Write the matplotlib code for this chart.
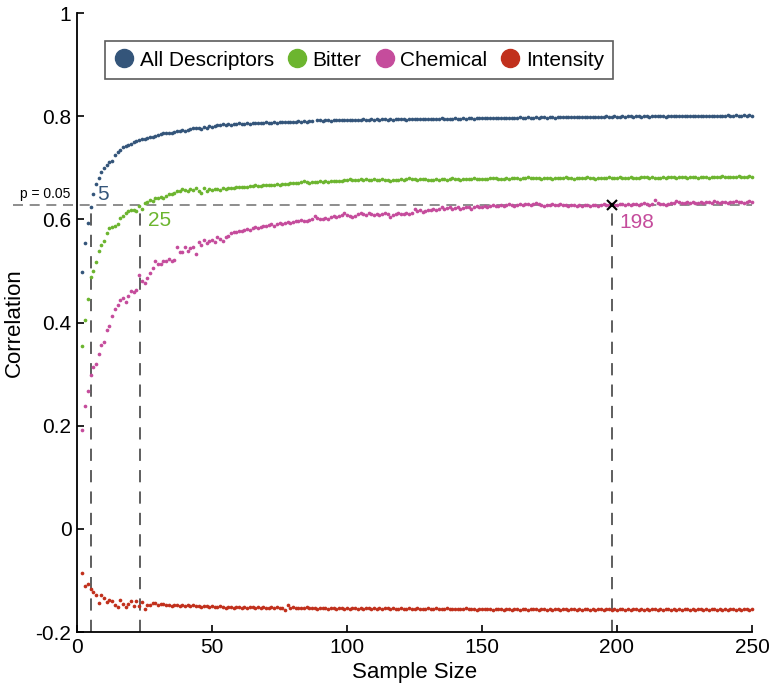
import numpy as np
import matplotlib
matplotlib.use('Agg')
import matplotlib.pyplot as plt
from matplotlib.lines import Line2D

plt.rcParams['font.family'] = ['Liberation Sans', 'DejaVu Sans']

# sample sizes 2..250
sample_size = np.arange(2, 251)

# correlation values, in thousandths
all_desc = [
    497, 555, 592, 624, 650, 668, 680, 692, 700, 706,
    712, 714, 725, 730, 735, 740, 742, 745, 747, 749,
    751, 753, 755, 756, 757, 759, 760, 762, 764, 766,
    767, 768, 768, 767, 770, 772, 771, 773, 772, 774,
    776, 778, 777, 778, 776, 779, 778, 780, 779, 781,
    783, 782, 784, 783, 784, 783, 785, 784, 786, 784,
    785, 786, 785, 787, 786, 786, 787, 786, 788, 787,
    787, 788, 787, 788, 789, 788, 788, 789, 788, 789,
    790, 789, 790, 789, 790, 791, np.nan, 792, 792, 791,
    792, 792, 791, 792, 792, 793, 792, 792, 793, 792,
    793, 792, 793, 793, 794, 793, 793, 794, 793, 794,
    793, 794, 794, 793, 794, 793, 794, 794, 795, 794,
    793, 794, 795, 794, 795, 794, 795, 795, 794, 795,
    795, 794, 795, 796, 795, 795, 794, 795, 796, 795,
    795, 796, 795, 796, 796, 795, 796, 796, 797, 796,
    796, 797, 796, 796, 797, 797, 796, 797, 797, 796,
    797, 797, 798, 797, 797, 798, 797, 797, 798, 797,
    798, 798, 797, 798, 798, 797, 798, 798, 799, 798,
    798, 799, 798, 798, 799, 798, 799, 799, 798, 799,
    799, 798, 799, 799, 800, 799, 799, 800, 799, 799,
    800, 799, 800, 800, 799, 800, 800, 799, 800, 800,
    799, 800, 800, 801, 800, 800, 799, 800, 801, 800,
    800, 801, 800, 800, 801, 800, 801, 801, 800, 801,
    800, 801, 801, 800, 801, 801, 800, 801, 801, 802,
    801, 801, 802, 801, 801, 802, 801, 802, 801,
]

bitter = [
    354, 404, 446, 489, 499, 517, 538, 550, 558, 573,
    583, 585, 588, 591, 602, 607, 613, 616, 618, 618,
    617, 626, 620, 632, 634, 638, 636, 641, 642, 643,
    641, 645, 650, 649, 652, 654, 655, 658, 656, 655,
    658, 657, 660, 655, 652, 660, 655, 658, 657, 659,
    658, 657, 660, 659, 660, 661, 660, 662, 663, 662,
    663, 662, 664, 665, 666, 665, 664, 666, 667, 666,
    667, 666, 668, 667, 668, 669, 668, 670, 671, 670,
    671, 672, 674, 672, 671, 673, 672, 673, 674, 673,
    674, 673, 674, 675, 674, 674, 675, 676, 677, 678,
    677, 676, 676, 678, 677, 678, 677, 676, 678, 677,
    677, 678, 677, 676, 674, 676, 677, 676, 678, 677,
    678, 680, 679, 678, 677, 678, 679, 678, 677, 676,
    677, 678, 677, 678, 679, 677, 678, 680, 679, 678,
    677, 678, 679, 678, 679, 680, 679, 678, 679, 678,
    679, 680, 681, 680, 679, 678, 679, 680, 679, 680,
    681, 680, 679, 680, 681, 682, 681, 680, 681, 680,
    679, 680, 681, 680, 679, 680, 681, 680, 681, 682,
    681, 680, 679, 680, 681, 680, 681, 682, 681, 680,
    679, 680, 681, 680, 681, 682, 681, 680, 681, 682,
    681, 680, 681, 682, 681, 680, 681, 682, 683, 682,
    681, 682, 681, 680, 681, 682, 681, 682, 683, 682,
    681, 682, 683, 682, 681, 682, 683, 682, 681, 682,
    683, 682, 681, 682, 683, 682, 683, 684, 683, 682,
    683, 682, 683, 684, 683, 682, 683, 684, 683,
]

chemical = [
    191, 239, 268, 299, 314, 320, 339, 356, 362, 385,
    394, 412, 426, 434, 444, 447, 440, 452, 462, 459,
    463, 492, 480, 477, 486, 495, 506, 519, 513, 513,
    519, 519, 524, 520, 522, 546, 536, 536, 546, 538,
    544, 546, 533, 557, 551, 560, 555, 558, 560, 556,
    566, 562, 558, 566, 568, 573, 575, 576, 578, 577,
    579, 581, 580, 583, 586, 584, 585, 588, 587, 589,
    590, 588, 591, 592, 590, 593, 594, 592, 595, 597,
    596, 598, 597, 596, 599, 600, 607, 602, 601, 600,
    603, 600, 605, 607, 604, 606, 609, 613, 608, 607,
    605, 607, 610, 613, 611, 609, 612, 610, 608, 611,
    609, 611, 613, 610, 605, 608, 610, 612, 611, 610,
    612, 611, 613, 620, 616, 618, 615, 617, 619, 618,
    620, 619, 621, 623, 620, 622, 624, 621, 622, 623,
    621, 622, 624, 623, 621, 624, 625, 623, 624, 626,
    624, 626, 627, 625, 626, 628, 626, 627, 629, 628,
    626, 628, 629, 627, 629, 630, 628, 629, 631, 629,
    627, 626, 628, 627, 629, 628, 627, 629, 628, 627,
    626, 628, 627, 625, 627, 626, 628, 627, 626, 628,
    627, 626, 628, 629, 627, 628, 629, 628, 627, 629,
    630, 628, 629, 627, 629, 630, 628, 629, 631, 630,
    628, 629, 637, 632, 630, 629, 628, 630, 631, 632,
    636, 633, 631, 632, 634, 632, 633, 631, 632, 633,
    631, 633, 634, 632, 635, 633, 632, 634, 633, 632,
    634, 633, 635, 633, 634, 632, 634, 635, 633,
]

intensity = [
    -86, -110, -107, -116, -123, -129, -144, -128, -135, -142,
    -137, -139, -147, -151, -137, -145, -151, -145, -139, -150,
    -139, -149, -142, -155, -147, -147, -144, -143, -147, -146,
    -145, -147, -148, -149, -148, -147, -149, -148, -150, -148,
    -149, -148, -150, -149, -151, -149, -150, -151, -150, -152,
    -151, -150, -152, -153, -152, -151, -153, -152, -151, -153,
    -152, -153, -152, -151, -153, -152, -153, -152, -154, -153,
    -152, -153, -152, -154, -153, -158, -148, -154, -152, -153,
    -153, -154, -153, -152, -154, -153, -154, -155, -153, -154,
    -153, -155, -154, -153, -155, -154, -153, -155, -154, -155,
    -154, -153, -155, -154, -155, -153, -154, -155, -154, -156,
    -154, -155, -154, -153, -155, -154, -156, -155, -154, -155,
    -156, -154, -155, -156, -154, -155, -156, -155, -154, -156,
    -155, -154, -156, -155, -156, -154, -155, -156, -155, -156,
    -155, -156, -154, -155, -156, -155, -157, -155, -156, -155,
    -156, -155, -157, -156, -155, -156, -157, -155, -156, -157,
    -156, -155, -157, -156, -155, -157, -156, -155, -156, -157,
    -156, -155, -157, -156, -157, -155, -156, -157, -156, -155,
    -157, -156, -155, -157, -156, -157, -155, -156, -157, -156,
    -157, -155, -156, -157, -156, -155, -157, -156, -157, -156,
    -155, -157, -156, -157, -156, -155, -157, -156, -157, -156,
    -157, -156, -155, -157, -156, -157, -156, -155, -157, -156,
    -157, -156, -157, -155, -156, -157, -156, -157, -156, -155,
    -157, -156, -157, -156, -155, -157, -156, -157, -156, -157,
    -156, -155, -157, -156, -157, -156, -155, -157, -156,
]

series_names = ['All Descriptors', 'Bitter', 'Chemical', 'Intensity']
series_vals = [all_desc, bitter, chemical, intensity]
colors = ['#34557a', '#6cb52f', '#c54c9c', '#c1301c']

p_level = 0.628          # correlation needed for p = 0.05
cross_sizes = [5, 23.5, 198]
cross_labels = ['5', '25', '198']

fig = plt.figure(figsize=(7.78, 6.84), dpi=100)
ax = fig.add_axes([77/778, 52/684, 675/778, 619/684])

for vals, c in zip(series_vals, colors):
    y = np.array(vals, dtype=float) / 1000.0
    ax.scatter(sample_size, y, s=7, color=c, linewidths=0, zorder=3, clip_on=False)

# significance threshold
ax.plot([-23.6, 250], [p_level, p_level], color='#7a7a7a', lw=1.2,
        linestyle=(0, (6, 4)), clip_on=False, zorder=2)
for xs in cross_sizes:
    ax.plot([xs, xs], [-0.2, p_level], color='#333333', lw=1.1,
            linestyle=(0, (8, 6)), zorder=2)
ax.plot([198], [p_level], marker='x', color='black', ms=7, mew=1.5, zorder=4)

ax.text(-21.1, 0.641, 'p = 0.05', fontsize=10, color='black')
ax.text(7.4, 0.637, cross_labels[0], fontsize=15, color=colors[0])
ax.text(26.3, 0.587, cross_labels[1], fontsize=15, color=colors[1])
ax.text(201, 0.584, cross_labels[2], fontsize=15, color=colors[2])

ax.set_xlim(0, 250)
ax.set_ylim(-0.2, 1)
ax.set_xticks([0, 50, 100, 150, 200, 250])
ax.set_yticks([-0.2, 0, 0.2, 0.4, 0.6, 0.8, 1])
ax.set_yticklabels(['-0.2', '0', '0.2', '0.4', '0.6', '0.8', '1'])
ax.tick_params(direction='in', length=5, width=1.2, labelsize=15, pad=4)
for s in ['top', 'right']:
    ax.spines[s].set_visible(False)
for s in ['left', 'bottom']:
    ax.spines[s].set_linewidth(1.3)

ax.set_xlabel('Sample Size', fontsize=16, labelpad=4)
ax.set_ylabel('Correlation', fontsize=16, labelpad=8)

handles = [Line2D([], [], marker='o', ls='', ms=13, color=c) for c in colors]
leg = fig.legend(handles, series_names, loc='center', ncol=4,
                 bbox_to_anchor=(359/778, 1 - 60/684), fontsize=15,
                 frameon=True, fancybox=False, edgecolor='#333333',
                 handletextpad=0.25, columnspacing=0.6, handlelength=1.0,
                 borderpad=0.45, borderaxespad=0)
leg.get_frame().set_linewidth(1.2)

fig.savefig('out.png', dpi=100)
